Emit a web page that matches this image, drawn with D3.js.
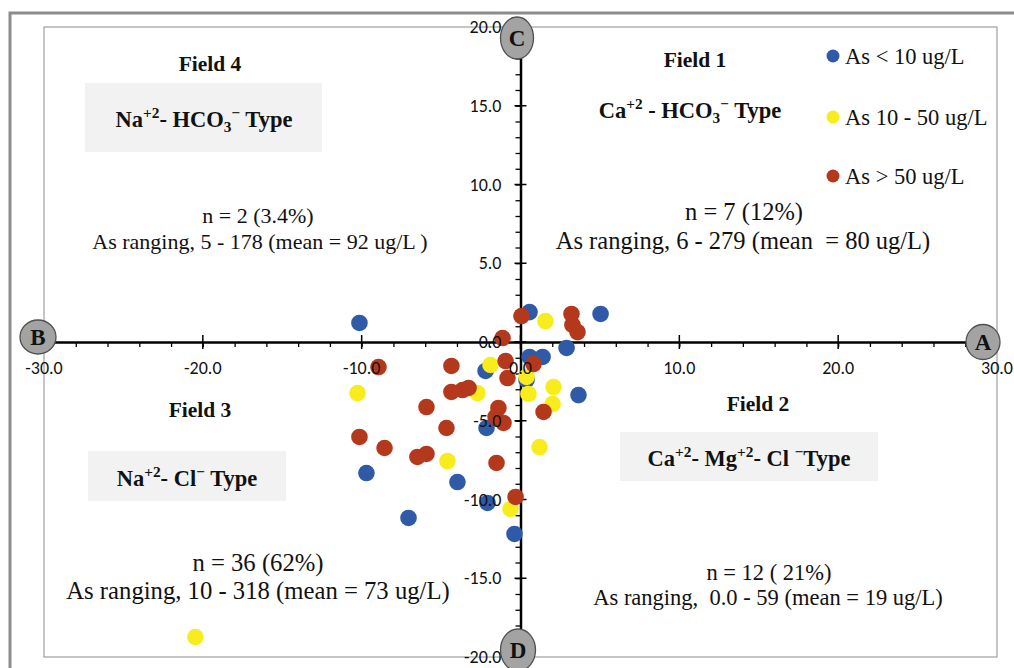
<!DOCTYPE html>
<html><head>
<meta charset="utf-8">
<script src="https://cdn.jsdelivr.net/npm/d3@7/dist/d3.min.js"></script>
<style>
body{
  margin: 0px;
  background: #fff;
}
.tick-label {
  font-family: Carlito, Lato, sans-serif;
  font-size: 18px;
  fill: #111;
}
.serif {
  font-family: "Liberation Serif", "Times New Roman", serif;
  fill: #111;
  white-space: pre;
}
</style>
<title>Hydrochemical fields</title>
</head>
<body>
<script>
var width = 1014,
    height = 668;

// series: As concentration classes
var seriesNames = ["As < 10 ug/L", "As 10 - 50 ug/L", "As > 50 ug/L"];
var seriesColors = ["#2f5aa8", "#f8ec1c", "#b4391c"];

// As < 10 ug/L
var lowX = [0.57, 5.04, 2.90, 0.57, 1.39, -2.20, 0.38, 3.65, -2.14, -3.97, -2.08, -0.38, -10.14, -9.70, -7.05];
var lowY = [1.90, 1.78, -0.38, -0.95, -0.95, -1.84, -2.41, -3.37, -5.46, -8.89, -10.22, -12.19, 1.21, -8.32, -11.17];

// As 10 - 50 ug/L
var midX = [1.57, -1.89, 0.38, 0.50, 2.08, 2.02, -2.71, -10.26, 1.20, -4.60, -0.63, -20.47];
var midY = [1.33, -1.46, -2.22, -3.30, -2.86, -3.94, -3.24, -3.24, -6.67, -7.56, -10.60, -18.73];

// As > 50 ug/L
var highX = [0.06, 3.21, 3.27, 3.59, -1.13, 0.82, -0.94, -4.35, -0.82, 1.45, -4.35, -3.65, -3.27, -1.39, -1.57, -1.07, -4.66, -8.94, -5.92, -10.14, -8.56, -6.49, -5.92, -1.51, -0.31];
var highY = [1.65, 1.78, 1.08, 0.63, 0.25, -1.40, -1.21, -1.52, -2.29, -4.44, -3.17, -3.05, -2.92, -4.19, -4.76, -5.14, -5.46, -1.59, -4.13, -6.03, -6.73, -7.30, -7.11, -7.68, -9.84];

var xMajor = [-30, -20, -10, 0, 10, 20, 30];
var yMajor = [-20, -15, -10, -5, 0, 5, 10, 15, 20];
var xMinor = d3.range(-30, 31, 2);
var yMinor = d3.range(-20, 21, 1);

var svg = d3.select("body").append("svg")
    .attr("width", width)
    .attr("height", height);

var x = d3.scaleLinear().domain([-30, 30]).range([44, 997]);
var y = d3.scaleLinear().domain([-20, 20]).range([657, 27]);

// outer frame
svg.append("rect")
  .attr("x", 10).attr("y", 13)
  .attr("width", 1012).attr("height", 670)
  .attr("fill", "none")
  .attr("stroke", "#8c8c8c")
  .attr("stroke-width", 3);

// plot area
svg.append("rect")
  .attr("x", x(-30)).attr("y", y(20))
  .attr("width", x(30) - x(-30)).attr("height", y(-20) - y(20))
  .attr("fill", "none")
  .attr("stroke", "#8c8c8c")
  .attr("stroke-width", 1);

// grey type boxes
var boxes = [
  {x: 85, y: 83, w: 237, h: 69},
  {x: 88, y: 451, w: 198, h: 50},
  {x: 620, y: 432, w: 258, h: 49}
];
svg.selectAll("rect.box").data(boxes).enter().append("rect")
  .attr("class", "box")
  .attr("x", function(d){ return d.x; })
  .attr("y", function(d){ return d.y; })
  .attr("width", function(d){ return d.w; })
  .attr("height", function(d){ return d.h; })
  .attr("fill", "#f2f2f2");

function label(tx, ty, str, size, bold){
  return svg.append("text")
    .attr("class", "serif")
    .attr("x", tx).attr("y", ty)
    .attr("text-anchor", "middle")
    .attr("font-size", size)
    .attr("font-weight", bold ? "bold" : "normal")
    .text(str);
}

label(210, 71, "Field 4", 21.5, true);
label(695, 67, "Field 1", 21.5, true);
label(200, 417, "Field 3", 21.5, true);
label(758, 411, "Field 2", 21.5, true);

// formula text with super/subscripts
function formula(tx, ty, parts, size){
  var t = svg.append("text")
    .attr("class", "serif")
    .attr("x", tx).attr("y", ty)
    .attr("text-anchor", "middle")
    .attr("font-size", size)
    .attr("font-weight", "bold");
  parts.forEach(function(p){
    var s = t.append("tspan").text(p[0]);
    if (p[1] == "sup") s.attr("font-size", size * 0.68).attr("dy", -9);
    if (p[1] == "sub") s.attr("font-size", size * 0.68).attr("dy", 5);
    if (p[2]) s.attr("dy", p[2]);
  });
}

formula(204, 127, [["Na"], ["+2", "sup"], ["- HCO", null, 9], ["3", "sub"], ["\u2212", "sup", -14], [" Type", null, 9]], 22.5);
formula(690, 118, [["Ca"], ["+2", "sup"], [" - HCO", null, 9], ["3", "sub"], ["\u2212", "sup", -14], [" Type", null, 9]], 22.5);
formula(187, 486, [["Na"], ["+2", "sup"], ["- Cl", null, 9], ["\u2212", "sup"], [" Type", null, 9]], 22.5);
formula(749, 466, [["Ca"], ["+2", "sup"], ["- Mg", null, 9], ["+2", "sup"], ["- Cl ", null, 9], ["\u2212", "sup"], ["Type", null, 9]], 22.5);

label(258, 223, "n = 2 (3.4%)", 22, false);
label(260, 249, "As ranging, 5 - 178 (mean = 92 ug/L )", 22, false);
label(744, 220, "n = 7 (12%)", 24.5, false);
label(743, 249, "As ranging, 6 - 279 (mean  = 80 ug/L)", 24.5, false);
label(258, 571, "n = 36 (62%)", 24.7, false);
label(258, 599, "As ranging, 10 - 318 (mean = 73 ug/L)", 24.7, false);
label(769, 580, "n = 12 ( 21%)", 22.5, false);
label(768, 605, "As ranging,  0.0 - 59 (mean = 19 ug/L)", 22.5, false);

// axes through the origin
var gx = svg.append("g").attr("transform", "translate(0," + y(0) + ")")
  .call(d3.axisBottom(x).tickValues(xMinor).tickSize(5).tickSizeOuter(0).tickFormat(""));
var gy = svg.append("g").attr("transform", "translate(" + x(0) + ",0)")
  .call(d3.axisLeft(y).tickValues(yMinor).tickSize(5).tickSizeOuter(0).tickFormat(""));
[gx, gy].forEach(function(g){
  g.select(".domain").attr("stroke", "#000").attr("stroke-width", 2.5);
  g.selectAll(".tick line").attr("stroke", "#000").attr("stroke-width", 1.3);
});

svg.selectAll("line.xmaj").data(xMajor).enter().append("line")
  .attr("x1", function(d){ return x(d); }).attr("x2", function(d){ return x(d); })
  .attr("y1", y(0) - 7).attr("y2", y(0) + 7)
  .attr("stroke", "#000").attr("stroke-width", 1.5);
svg.selectAll("line.ymaj").data(yMajor).enter().append("line")
  .attr("y1", function(d){ return y(d); }).attr("y2", function(d){ return y(d); })
  .attr("x1", x(0) - 6).attr("x2", x(0) + 6)
  .attr("stroke", "#000").attr("stroke-width", 1.5);

// points
var series = [
  {xs: lowX, ys: lowY},
  {xs: midX, ys: midY},
  {xs: highX, ys: highY}
];
series.forEach(function(s, i){
  svg.append("g").selectAll("circle").data(s.xs).enter().append("circle")
    .attr("cx", function(d){ return x(d); })
    .attr("cy", function(d, j){ return y(s.ys[j]); })
    .attr("r", 8.3)
    .attr("fill", seriesColors[i]);
});

// tick labels
svg.selectAll("text.xl").data(xMajor).enter().append("text")
  .attr("class", "tick-label")
  .attr("x", function(d){ return x(d); })
  .attr("y", y(0) + 32)
  .attr("text-anchor", "middle")
  .text(function(d){ return d.toFixed(1); });
svg.selectAll("text.yl").data(yMajor).enter().append("text")
  .attr("class", "tick-label")
  .attr("x", x(0) - 19)
  .attr("y", function(d){ return y(d) + 6; })
  .attr("text-anchor", "end")
  .text(function(d){ return d.toFixed(1); });

// end markers A B C D
var markers = [
  {t: "A", cx: 983, cy: 342, rx: 17, ry: 17.5},
  {t: "B", cx: 38, cy: 337, rx: 18, ry: 17},
  {t: "C", cx: 517, cy: 38, rx: 16.5, ry: 21},
  {t: "D", cx: 518, cy: 650, rx: 17.5, ry: 21}
];
var mk = svg.selectAll("g.mk").data(markers).enter().append("g");
mk.append("ellipse")
  .attr("cx", function(d){ return d.cx; })
  .attr("cy", function(d){ return d.cy; })
  .attr("rx", function(d){ return d.rx; })
  .attr("ry", function(d){ return d.ry; })
  .attr("fill", "#a3a3a3")
  .attr("stroke", "#505050")
  .attr("stroke-width", 1.3);
mk.append("text")
  .attr("class", "serif")
  .attr("x", function(d){ return d.cx; })
  .attr("y", function(d){ return d.cy + 8; })
  .attr("text-anchor", "middle")
  .attr("font-size", 23)
  .attr("font-weight", "bold")
  .text(function(d){ return d.t; });

// legend
var legendY = [56, 117, 176];
var lg = svg.selectAll("g.lg").data(seriesNames).enter().append("g");
lg.append("circle")
  .attr("cx", 833)
  .attr("cy", function(d, i){ return legendY[i]; })
  .attr("r", 6.5)
  .attr("fill", function(d, i){ return seriesColors[i]; });
lg.append("text")
  .attr("class", "serif")
  .attr("x", 845)
  .attr("y", function(d, i){ return legendY[i] + 7.5; })
  .attr("font-size", 22.5)
  .text(function(d){ return d; });
</script>
</body></html>
